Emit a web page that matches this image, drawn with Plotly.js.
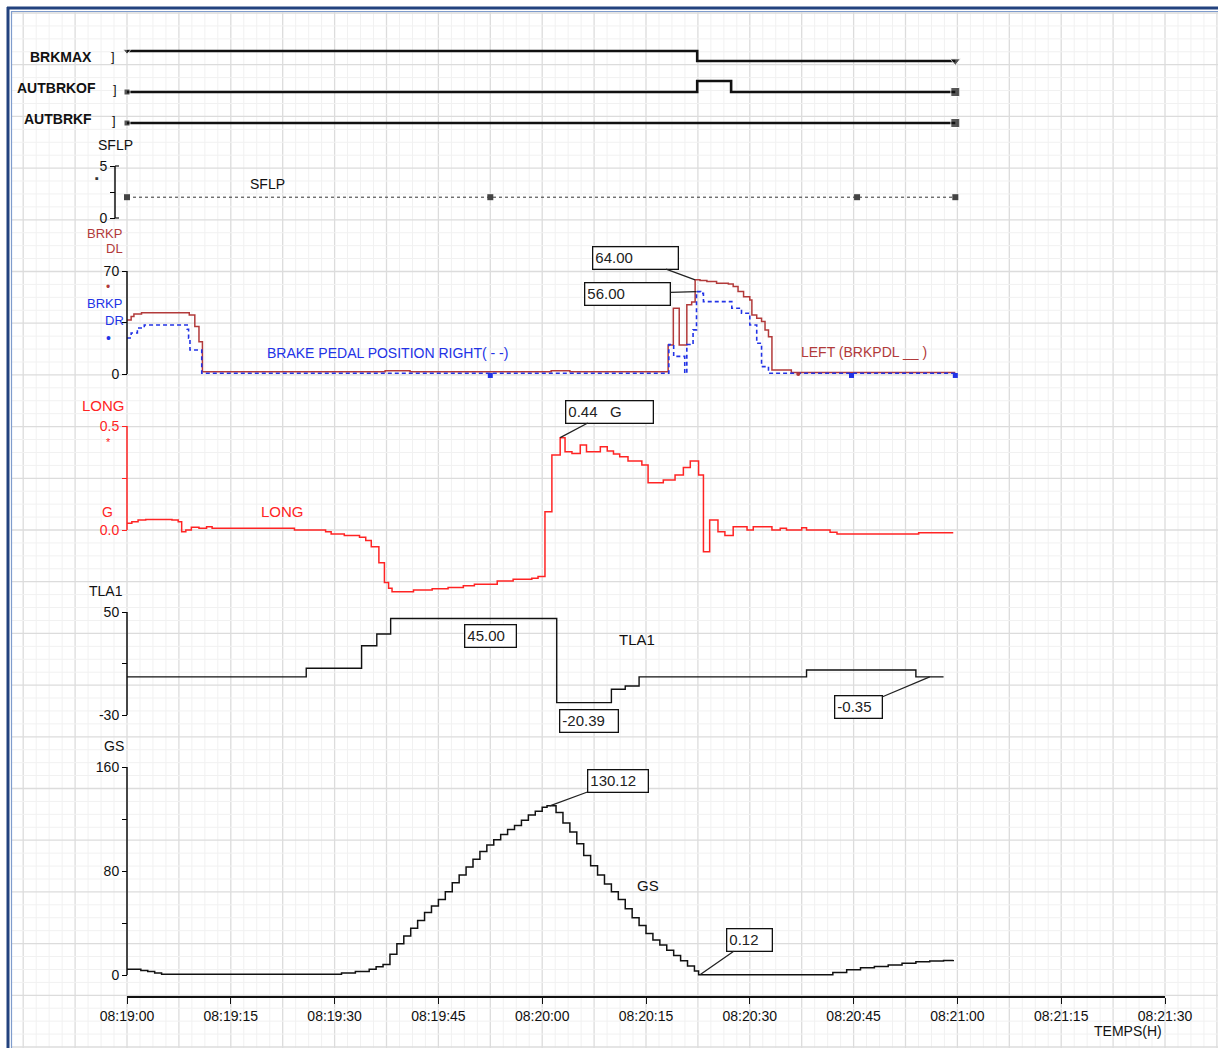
<!DOCTYPE html>
<html><head><meta charset="utf-8">
<script src="https://cdn.plot.ly/plotly-3.0.1.min.js"></script>
<style>body{margin:0;background:#fff}</style>
</head><body><div id="chart" style="width:1218px;height:1048px"></div>
<script>
// ---------------- data ----------------
const xTickVals = [0,15,30,45,60,75,90,105,120,135,150];
const xTickText = ['08:19:00','08:19:15','08:19:30','08:19:45','08:20:00','08:20:15','08:20:30','08:20:45','08:21:00','08:21:15','08:21:30'];

const brkmaxT = [0, 82.4, 119.7];
const brkmaxV = [1, 0, 0];
const autbrkofT = [0, 82.4, 87.3, 119.7];
const autbrkofV = [0, 1, 0, 0];
const autbrkfT = [0, 119.7];
const autbrkfV = [0, 0];
const sflpT = [0, 52.5, 105.5, 119.7];
const sflpV = [2, 2, 2, 2];

const brkpLT = [0,0.6,1.0,2.1,9.0,9.8,10.4,10.9,37.3,40.9,61.3,64.0,78.2,78.95,79.8,80.9,81.6,82.1,82.8,83.8,85.2,86.9,87.6,88.3,89.1,90.0,90.3,91.0,91.7,92.2,92.7,93.2,96.0,119.7];
const brkpLV = [36.7,39,40.8,41.7,40.1,32.2,22,1.5,2.2,1.5,2.2,1.5,19.7,44.7,19.7,47,49,64,63.5,62.8,61.6,61.2,59.4,56,52.5,50.3,40.1,37.9,35.6,29.9,25.4,2.7,1.0,1.0];
const brkpLMarkT = [97];
const brkpLMarkV = [0];
const brkpRT = [0,0.6,1.5,2.5,8.7,8.9,9.1,10.8,78.3,79.0,80.6,80.9,81.8,82.3,82.9,83.3,87.4,88.8,90.0,91.0,91.7,92.7,119.7];
const brkpRV = [24.5,27.9,31.3,33.3,30.4,24.3,16.3,0.5,20,12,0.5,20,30,56,54.8,49.2,44.7,41.3,33.3,20.9,5,0.5,0.5];
const brkpRMarkT = [52.5, 104.7, 119.7];
const brkpRMarkV = [-1, -1, -1];

const longT = [0,0.7,1.6,2.7,6.5,7.4,7.9,8.5,9.3,10.4,11.5,12.3,24.2,28.7,29.5,31.4,33.6,34.5,35.3,36.4,37.2,37.8,38.3,41.4,44.1,46.4,48.6,50.2,53.5,55.8,58.5,59.4,60.4,61.4,62.6,63.3,64.3,65.5,66.4,68.4,69.4,70.3,71.2,72.4,74.4,75.3,77.5,79.2,80.4,81.4,82.6,83.3,84.2,85.4,86.4,87.6,89.6,90.5,93.2,94.4,95.3,97.5,98.2,101.6,102.6,114.4,119.4];
const longV = [0.032,0.040,0.048,0.051,0.048,0.040,-0.008,0.0,0.013,0.008,0.016,0.008,0.0,-0.008,-0.019,-0.027,-0.035,-0.051,-0.080,-0.157,-0.253,-0.280,-0.297,-0.288,-0.282,-0.276,-0.268,-0.261,-0.245,-0.237,-0.232,-0.224,0.088,0.360,0.444,0.376,0.368,0.409,0.376,0.400,0.380,0.365,0.352,0.332,0.3125,0.227,0.240,0.264,0.301,0.332,0.264,-0.104,0.048,-0.008,-0.027,0.016,0.0,0.016,0.0,0.008,0.0,0.011,0.0,-0.011,-0.019,-0.013,-0.013];

const tlaT = [0,25.9,33.9,36.1,38.1,62.1,70.0,72.0,74.0,98.2,114.0,118.0];
const tlaV = [-0.35,6.3,23.8,32.9,45,-20.39,-10,-7.5,-0.35,5,-0.35,-0.35];

const gsT = [0,1,2,3,4,5,29,31,33,35,36,37,38,39,40,41,42,43,44,45,46,47,48,49,50,51,52,53,54,55,56,57,58,59,60,60.7,61.4,62,63,64,65,66,67,68,69,70,71,72,73,74,75,76,77,78,79,80,81,82,82.6,100,102,104,106,108,110,112,114,116,118,119.4];
const gsV = [4.4,4.4,3.5,2.6,1.5,0.5,0.5,1.5,2.6,4.4,6.4,8,16,24,30,36,42,48,53,58,64,71,77,83,89,95,100,104,108,112,115,119,123,126,129,130.12,130.12,125,117,110,101,92,84,77,70,64,58,51,44,38,32,27,23,19,15,11,7,3,0.12,0.12,2,4,5.5,6.5,7.7,9,10.2,10.8,11.2,11.5];

// ---------------- layout helpers ----------------
const FONT = 'Liberation Sans, Arial, sans-serif';
const ML = 100, MR = 53, MT = 40, MB = 51, WIDTH = 1218, HEIGHT = 1048;
const PW = WIDTH - ML - MR, PH = HEIGHT - MT - MB;
const px2x = p => (p - ML) / PW;
const py2y = p => (HEIGHT - MB - p) / PH;
function panel(v1, p1, v2, p2, pTop, pBot) {
  const s = (p2 - p1) / (v2 - v1);
  const v = p => v1 + (p - p1) / s;
  return {domain: [py2y(pBot), py2y(pTop)], range: [v(pBot), v(pTop)]};
}
const AXPOS = px2x(127);
function yax(pn, extra) {
  return Object.assign({
    domain: pn.domain, range: pn.range, anchor: 'free', position: AXPOS,
    showgrid: false, zeroline: false, showline: false, ticks: 'outside', ticklen: 5,
    tickwidth: 1, tickcolor: '#000', tickfont: {family: FONT, size: 14, color: '#111'},
    fixedrange: true
  }, extra);
}

const pBrkmax = panel(0, 61, 1, 51, 44, 68);
const pAutof = panel(0, 92, 1, 81, 75, 99);
const pAutf = panel(0, 123, 1, 112, 106, 130);
const pSflp = panel(0, 218, 5, 166, 160, 224);
const pBrkp = panel(0, 374, 70, 271, 262, 382);
const pLong = panel(0, 530, 0.5, 426, 415, 600);
const pTla = panel(-30, 715, 50, 612, 604, 722);
const pGs = panel(0, 975, 160, 767, 758, 982);

const DKRED = '#b23a3a', BLUE = '#2233e6', RED = '#ff2424';

const traces = [
  {x: brkmaxT, y: brkmaxV, yaxis: 'y', mode: 'lines+markers', line: {shape: 'hv', color: '#111', width: 2.6},
   marker: {symbol: 'triangle-down', size: [7, 0, 9], color: '#111'}},
  {x: autbrkofT, y: autbrkofV, yaxis: 'y2', mode: 'lines+markers', line: {shape: 'hv', color: '#111', width: 2.6},
   marker: {symbol: 'square', size: [6, 0, 0, 9], color: '#111'}},
  {x: autbrkfT, y: autbrkfV, yaxis: 'y3', mode: 'lines+markers', line: {shape: 'hv', color: '#111', width: 2.6},
   marker: {symbol: 'square', size: [6, 9], color: '#111'}},
  {x: sflpT, y: sflpV, yaxis: 'y4', mode: 'lines+markers', line: {shape: 'hv', color: '#333', width: 1, dash: 'dot'},
   marker: {symbol: 'square', size: 6, color: '#444'}},
  {x: brkpLT, y: brkpLV, yaxis: 'y5', mode: 'lines', line: {shape: 'hv', color: DKRED, width: 1.5}},
  {x: brkpRT, y: brkpRV, yaxis: 'y5', mode: 'lines', line: {shape: 'hv', color: BLUE, width: 1.6, dash: '4px,3px'}},
  {x: brkpLMarkT, y: brkpLMarkV, yaxis: 'y5', mode: 'markers', marker: {symbol: 'circle', size: 4, color: DKRED}},
  {x: brkpRMarkT, y: brkpRMarkV, yaxis: 'y5', mode: 'markers', marker: {symbol: 'square', size: 5, color: BLUE}},
  {x: longT, y: longV, yaxis: 'y6', mode: 'lines', line: {shape: 'hv', color: RED, width: 1.5}},
  {x: tlaT, y: tlaV, yaxis: 'y7', mode: 'lines', line: {shape: 'hv', color: '#111', width: 1.4}},
  {x: gsT, y: gsV, yaxis: 'y8', mode: 'lines', line: {shape: 'hv', color: '#111', width: 1.5}}
];
traces.forEach(t => { t.xaxis = 'x'; t.hoverinfo = 'skip'; t.showlegend = false; t.cliponaxis = false; });

// ---------------- shapes: page grid, frame, axis spines ----------------
const shapes = [];
const GX0 = 12, GY0 = 12;
const vStep = 51.9, hStep = 51.7;
for (let k = -3; k <= 21; k++) {
  for (let m = 0; m < 4; m++) {
    const p = 127 + vStep * k + m * vStep / 4;
    if (p < GX0 || p > WIDTH) continue;
    shapes.push({type: 'line', xref: 'paper', yref: 'paper', layer: 'below',
      x0: px2x(p), x1: px2x(p), y0: py2y(GY0), y1: py2y(HEIGHT),
      line: {color: m === 0 ? '#dcdcdc' : '#f1f1f1', width: m === 0 ? 1.3 : 1}});
  }
}
for (let k = -11; k <= 11; k++) {
  for (let m = 0; m < 4; m++) {
    const p = 530 + hStep * k + m * hStep / 4;
    if (p < GY0 || p > HEIGHT) continue;
    shapes.push({type: 'line', xref: 'paper', yref: 'paper', layer: 'below',
      x0: px2x(GX0), x1: px2x(WIDTH), y0: py2y(p), y1: py2y(p),
      line: {color: m === 0 ? '#dcdcdc' : '#f1f1f1', width: m === 0 ? 1.3 : 1}});
  }
}
// blue frame
shapes.push({type: 'line', xref: 'paper', yref: 'paper', x0: px2x(7), x1: px2x(WIDTH), y0: py2y(8), y1: py2y(8), line: {color: '#23427e', width: 3}});
shapes.push({type: 'line', xref: 'paper', yref: 'paper', x0: px2x(8), x1: px2x(8), y0: py2y(7), y1: py2y(HEIGHT), line: {color: '#23427e', width: 3}});
shapes.push({type: 'line', xref: 'paper', yref: 'paper', x0: px2x(11), x1: px2x(WIDTH), y0: py2y(11.5), y1: py2y(11.5), line: {color: '#7f9ccc', width: 1.2}});
shapes.push({type: 'line', xref: 'paper', yref: 'paper', x0: px2x(11.5), x1: px2x(11.5), y0: py2y(11), y1: py2y(HEIGHT), line: {color: '#7f9ccc', width: 1.2}});
// axis spines
function spine(yref, v0, v1, color, xp) {
  shapes.push({type: 'line', xref: 'paper', yref: yref, x0: px2x(xp), x1: px2x(xp), y0: v0, y1: v1, line: {color: color, width: 1.5}});
}
spine('y5', 0, 70, '#111', 127);
spine('y6', 0, 0.5, RED, 127);
spine('y7', -30, 50, '#111', 127);
spine('y8', 0, 160, '#111', 127);
spine('y4', 0, 5, '#111', 115);
shapes.push({type: 'line', xref: 'paper', yref: 'y4', x0: px2x(115), x1: px2x(119), y0: 5, y1: 5, line: {color: '#111', width: 1.2}});
shapes.push({type: 'line', xref: 'paper', yref: 'y4', x0: px2x(115), x1: px2x(119), y0: 0, y1: 0, line: {color: '#111', width: 1.2}});

// ---------------- annotations ----------------
const ann = [];
function txt(px, py, text, color, size, opts) {
  ann.push(Object.assign({xref: 'paper', yref: 'paper', x: px2x(px), y: py2y(py), text: text, showarrow: false,
    xanchor: 'center', yanchor: 'middle', font: {family: FONT, size: size, color: color}}, opts || {}));
}
txt(94, 57, '<b>BRKMAX</b>', '#111', 14, {xanchor: 'right'});
txt(113, 56, ']', '#111', 13);
txt(98, 88, '<b>AUTBRKOF</b>', '#111', 14, {xanchor: 'right'});
txt(115, 89, ']', '#111', 13);
txt(94, 119, '<b>AUTBRKF</b>', '#111', 14, {xanchor: 'right'});
txt(114, 120, ']', '#111', 13);
txt(115, 145, 'SFLP', '#111', 14);
txt(97, 178, '▪', '#333', 11);
txt(104, 233, 'BRKP', DKRED, 13);
txt(114, 249, 'DL', DKRED, 13);
txt(108, 287, '•', DKRED, 12);
txt(104, 303, 'BRKP', BLUE, 13);
txt(114, 320, 'DR', BLUE, 13);
txt(108, 338, '•', BLUE, 14);
txt(103, 405, 'LONG', RED, 15);
txt(108, 442, '*', RED, 11);
txt(107, 512, 'G', RED, 14);
txt(106, 591, 'TLA1', '#111', 14);
txt(114, 746, 'GS', '#111', 14);
txt(267, 184, 'SFLP', '#111', 14);
txt(387, 353, 'BRAKE PEDAL POSITION RIGHT( - -)', BLUE, 14);
txt(864, 352, 'LEFT (BRKPDL __ )', DKRED, 14);
txt(282, 511, 'LONG', RED, 15);
txt(637, 639, 'TLA1', '#111', 15);
txt(648, 885, 'GS', '#111', 15);
txt(1128, 1031, 'TEMPS(H)', '#111', 14);

function box(yref, x, y, text, w, opts) {
  ann.push(Object.assign({xref: 'x', yref: yref, x: x, y: y, text: text, width: w, align: 'left',
    bordercolor: '#111', borderwidth: 1.3, borderpad: 2, bgcolor: '#fff',
    font: {family: FONT, size: 15, color: '#222'},
    showarrow: true, arrowhead: 0, arrowwidth: 1.3, arrowcolor: '#222', standoff: 0}, opts));
}
box('y5', 82.1, 64, '64.00', 80, {ax: -60, ay: -22});
box('y5', 82.3, 56, '56.00', 80, {ax: -69, ay: 2});
box('y6', 62.6, 0.444, '0.44   G', 82, {ax: 49, ay: -26});
box('y7', 52.5, 45, '45.00', 46, {showarrow: false, yshift: -18});
box('y7', 66.8, -20.39, '-20.39', 53, {showarrow: false, yshift: -18});
box('y7', 116.0, -0.35, '-0.35', 42, {ax: -71, ay: 30});
box('y8', 61.1, 130.12, '130.12', 55, {ax: 68, ay: -25});
box('y8', 82.8, 0.12, '0.12', 40, {ax: 50, ay: -35});

// ---------------- layout ----------------
const layout = {
  width: WIDTH, height: HEIGHT,
  margin: {l: ML, r: MR, t: MT, b: MB, pad: 0},
  paper_bgcolor: '#fff', plot_bgcolor: 'rgba(0,0,0,0)',
  showlegend: false, hovermode: false,
  font: {family: FONT, color: '#111'},
  xaxis: {domain: [px2x(127), 1], range: [0, 150], anchor: 'free', position: 0,
    tickvals: xTickVals, ticktext: xTickText, ticks: 'outside', ticklen: 6, tickcolor: '#111',
    showline: true, linecolor: '#111', linewidth: 2, showgrid: false, zeroline: false,
    tickfont: {family: FONT, size: 14, color: '#111'}, fixedrange: true},
  yaxis: yax(pBrkmax, {visible: false}),
  yaxis2: yax(pAutof, {visible: false}),
  yaxis3: yax(pAutf, {visible: false}),
  yaxis4: yax(pSflp, {position: px2x(115), tickvals: [0, 2.5, 5], ticktext: ['0', '', '5']}),
  yaxis5: yax(pBrkp, {tickvals: [0, 35, 70], ticktext: ['0', '', '70']}),
  yaxis6: yax(pLong, {tickvals: [0, 0.25, 0.5], ticktext: ['0.0', '', '0.5'], tickcolor: RED,
    tickfont: {family: FONT, size: 14, color: RED}}),
  yaxis7: yax(pTla, {tickvals: [-30, 10, 50], ticktext: ['-30', '', '50']}),
  yaxis8: yax(pGs, {tickvals: [0, 40, 80, 120, 160], ticktext: ['0', '', '80', '', '160']}),
  shapes: shapes,
  annotations: ann
};

Plotly.newPlot('chart', traces, layout, {displayModeBar: false, staticPlot: true});
</script>
</body></html>
